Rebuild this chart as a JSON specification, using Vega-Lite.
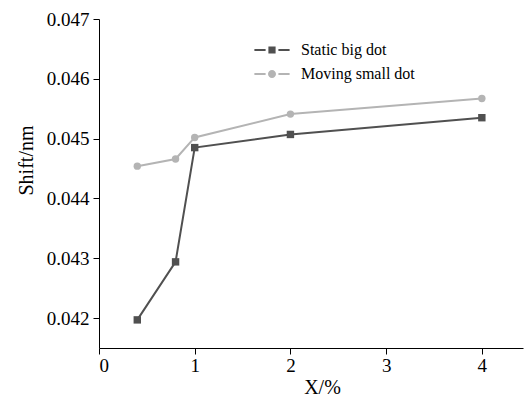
{
  "$schema": "https://vega.github.io/schema/vega-lite/v6.json",
  "width": 424,
  "height": 329,
  "autosize": {"type": "none"},
  "padding": {"left": 99, "top": 19, "right": 1, "bottom": 49},
  "background": "white",
  "config": {
    "view": {"stroke": null},
    "font": "Liberation Serif",
    "axis": {"grid": false, "domainColor": "black", "tickColor": "black", "labelColor": "black", "titleColor": "black", "labelFont": "Liberation Serif", "titleFont": "Liberation Serif", "titleFontWeight": "normal"},
    "legend": {"labelFont": "Liberation Serif"}
  },
  "data": {
    "values": [
      {"x": 0.4, "y": 0.04197, "series": "Static big dot"},
      {"x": 0.8, "y": 0.04294, "series": "Static big dot"},
      {"x": 1.0, "y": 0.04485, "series": "Static big dot"},
      {"x": 2.0, "y": 0.04507, "series": "Static big dot"},
      {"x": 4.0, "y": 0.04535, "series": "Static big dot"},
      {"x": 0.4, "y": 0.04454, "series": "Moving small dot"},
      {"x": 0.8, "y": 0.04466, "series": "Moving small dot"},
      {"x": 1.0, "y": 0.04502, "series": "Moving small dot"},
      {"x": 2.0, "y": 0.04541, "series": "Moving small dot"},
      {"x": 4.0, "y": 0.04567, "series": "Moving small dot"}
    ]
  },
  "encoding": {
    "x": {"field": "x", "type": "quantitative", "scale": {"domain": [0, 4.43], "nice": false, "zero": false},
      "axis": {"values": [0, 1, 2, 3, 4], "title": "X/%", "labelFontSize": 19, "titleFontSize": 20, "tickSize": 6, "labelPadding": 2, "titlePadding": 2, "titleX": 223}},
    "y": {"field": "y", "type": "quantitative", "scale": {"domain": [0.0415, 0.047], "nice": false, "zero": false},
      "axis": {"values": [0.042, 0.043, 0.044, 0.045, 0.046, 0.047], "format": ".3f", "title": "Shift/nm", "labelFontSize": 19, "titleFontSize": 20, "tickSize": 6, "labelPadding": 4, "titlePadding": 10, "titleY": 141}}
  },
  "layer": [
    {"mark": {"type": "line", "strokeWidth": 2},
     "encoding": {"color": {"field": "series", "type": "nominal", "scale": {"domain": ["Static big dot", "Moving small dot"], "range": ["#505050", "#b4b4b4"]}, "legend": null}}},
    {"mark": {"type": "point", "filled": true, "size": 55, "opacity": 1},
     "encoding": {
       "color": {"field": "series", "type": "nominal", "legend": null},
       "shape": {"field": "series", "type": "nominal", "scale": {"domain": ["Static big dot", "Moving small dot"], "range": ["square", "circle"]}, "legend": null}}},
    {"transform": [{"filter": "datum.x < 0"}],
     "mark": {"type": "point", "filled": true, "opacity": 1},
     "encoding": {
       "color": {"field": "series", "type": "nominal", "legend": {"title": null, "orient": "none", "legendX": 164, "legendY": 22, "labelFontSize": 16, "symbolSize": 256, "rowPadding": 7, "labelOffset": 20}},
       "shape": {"field": "series", "type": "nominal", "scale": {"domain": ["Static big dot", "Moving small dot"], "range": ["M-2.2,-0.12H-0.8V0.12H-2.2Z M0.8,-0.12H2.2V0.12H0.8Z M-0.45,-0.45H0.45V0.45H-0.45Z", "M-2.2,-0.12H-0.8V0.12H-2.2Z M0.8,-0.12H2.2V0.12H0.8Z M-0.5,0A0.5,0.5 0 1,0 0.5,0A0.5,0.5 0 1,0 -0.5,0Z"]},
         "legend": {"title": null, "orient": "none", "legendX": 164, "legendY": 22, "labelFontSize": 16, "symbolSize": 256, "rowPadding": 7, "labelOffset": 20}}}}
  ],
  "resolve": {"scale": {"shape": "independent"}, "legend": {"shape": "independent", "color": "independent"}}
}
